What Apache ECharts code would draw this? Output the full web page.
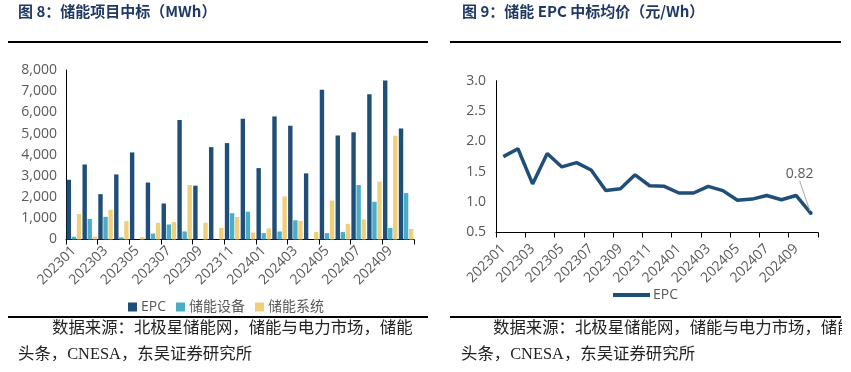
<!DOCTYPE html>
<html><head><meta charset="utf-8">
<script src="https://cdn.jsdelivr.net/npm/echarts@6/dist/echarts.min.js"></script>
<style>html,body{margin:0;padding:0;background:#fff;}#c{width:851px;height:372px;}</style>
</head><body><div id="c"></div>
<script>
const months = ['202301','202302','202303','202304','202305','202306','202307','202308','202309','202310','202311','202312','202401','202402','202403','202404','202405','202406','202407','202408','202409','202410'];
const epc    = [2820,3540,2140,3070,4110,2690,1700,5640,2540,4360,4550,5700,3370,5810,5370,3120,7070,4910,5060,6850,7510,5240];
const equip  = [130,970,1070,100,0,280,710,380,0,0,1240,1310,300,380,910,0,300,350,2570,1780,540,2190];
const system = [1200,130,1400,870,110,790,820,2570,790,550,1060,330,520,2030,880,350,1840,740,960,2730,4900,500];
const price  = [1.75,1.88,1.30,1.80,1.58,1.65,1.53,1.19,1.22,1.45,1.27,1.26,1.15,1.15,1.26,1.19,1.03,1.05,1.11,1.04,1.11,0.82];
const leftTicks = [0,1000,2000,3000,4000,5000,6000,7000,8000];
const rightTicks = [0.5,1.0,1.5,2.0,2.5,3.0];

const C_EPC='#1F4E79', C_EQ='#4BACC6', C_SYS='#F0CF7A';
const lab = {color:'#595959', fontSize:13, fontFamily:'"Open Sans","Noto Sans CJK SC",sans-serif'};
const serif = '"Liberation Serif","Noto Sans CJK SC",serif';
const titleFont = '"Noto Sans CJK SC",sans-serif';

const chart = echarts.init(document.getElementById('c'));
const priceData = price.map((v,i)=> i===price.length-1
  ? {value:v, symbol:'circle', symbolSize:4, label:{show:true}} : v);

chart.setOption({
  animation:false,
  grid:[
    {left:66, top:70, width:348, height:169.5},
    {left:496, top:80.7, width:322, height:151.8}
  ],
  legend:[
    {left:123, top:295, itemWidth:9, itemHeight:9, itemGap:10, icon:'rect',
     textStyle:{...lab, fontSize:14, padding:[0,0,0,-1]}, data:['EPC','储能设备','储能系统']},
    {left:608, top:283, itemWidth:37, itemHeight:4, icon:'rect', itemGap:0,
     formatter:()=>'EPC',
     textStyle:{...lab, fontSize:14, padding:[0,0,0,-2]}, data:['EPC价格']}
  ],
  xAxis:[
    {type:'category', gridIndex:0, data:months,
     axisLine:{lineStyle:{color:'#000',width:1}},
     axisTick:{show:true, length:5, lineStyle:{color:'#000'}},
     axisLabel:{...lab, fontSize:14, rotate:45, interval:1, margin:9}},
    {type:'category', gridIndex:1, data:months,
     axisLine:{lineStyle:{color:'#000',width:1}},
     axisTick:{show:true, length:5, lineStyle:{color:'#000'}},
     axisLabel:{...lab, fontSize:14, rotate:45, interval:1, margin:14}}
  ],
  yAxis:[
    {type:'value', gridIndex:0, min:leftTicks[0], max:leftTicks[leftTicks.length-1], interval:1000,
     axisLine:{show:true, lineStyle:{color:'#000'}}, axisTick:{show:false}, splitLine:{show:false},
     axisLabel:{...lab, fontSize:14, margin:9, formatter:v=>v.toLocaleString('en-US')}},
    {type:'value', gridIndex:1, min:rightTicks[0], max:rightTicks[rightTicks.length-1], interval:0.5,
     axisLine:{show:true, lineStyle:{color:'#000'}}, axisTick:{show:false}, splitLine:{show:false},
     axisLabel:{...lab, fontSize:14, margin:10, formatter:v=>v.toFixed(1)}}
  ],
  series:[
    {name:'EPC', type:'bar', xAxisIndex:0, yAxisIndex:0, data:epc, barWidth:4.4, barGap:'15%',
     itemStyle:{color:C_EPC}},
    {name:'储能设备', type:'bar', xAxisIndex:0, yAxisIndex:0, data:equip, barWidth:4.4, barGap:'15%',
     itemStyle:{color:C_EQ}},
    {name:'储能系统', type:'bar', xAxisIndex:0, yAxisIndex:0, data:system, barWidth:4.4, barGap:'15%',
     itemStyle:{color:C_SYS}},
    {name:'EPC价格', type:'line', xAxisIndex:1, yAxisIndex:1, data:priceData, symbol:'none',
     lineStyle:{color:C_EPC, width:3.5}, itemStyle:{color:C_EPC},
     label:{show:false, position:'top', ...lab, fontSize:14, formatter:p=>p.value.toFixed(2)},
     labelLayout:{dx:-11, dy:-25},
     labelLine:{show:true, lineStyle:{color:'#A6A6A6', width:1}}}
  ],
  graphic:[
    {type:'text', left:18, top:4, style:{text:'图 8：储能项目中标（MWh）', font:'bold 15px '+titleFont, fill:'#1F3864'}},
    {type:'text', left:462, top:4, style:{text:'图 9：储能 EPC 中标均价（元/Wh）', font:'bold 15px '+titleFont, fill:'#1F3864'}},
    {type:'rect', shape:{x:8, y:41, width:420, height:2}, style:{fill:'#000'}},
    {type:'rect', shape:{x:450, y:41, width:391, height:2}, style:{fill:'#000'}},
    {type:'rect', shape:{x:8, y:316, width:420, height:2}, style:{fill:'#000'}},
    {type:'rect', shape:{x:450, y:316, width:391, height:2}, style:{fill:'#000'}},
    {type:'text', left:52, top:321, style:{text:'数据来源：北极星储能网，储能与电力市场，储能', font:'16.4px '+serif, fill:'#222'}},
    {type:'text', left:18, top:347, style:{text:'头条，CNESA，东吴证券研究所', font:'16.4px '+serif, fill:'#222'}},
    {type:'text', left:493, top:321, style:{text:'数据来源：北极星储能网，储能与电力市场，储能', font:'16.4px '+serif, fill:'#222'}},
    {type:'text', left:461, top:347, style:{text:'头条，CNESA，东吴证券研究所', font:'16.4px '+serif, fill:'#222'}},
    {type:'rect', shape:{x:842, y:318, width:10, height:25}, style:{fill:'#fff'}, z:100}
  ]
});
</script></body></html>
